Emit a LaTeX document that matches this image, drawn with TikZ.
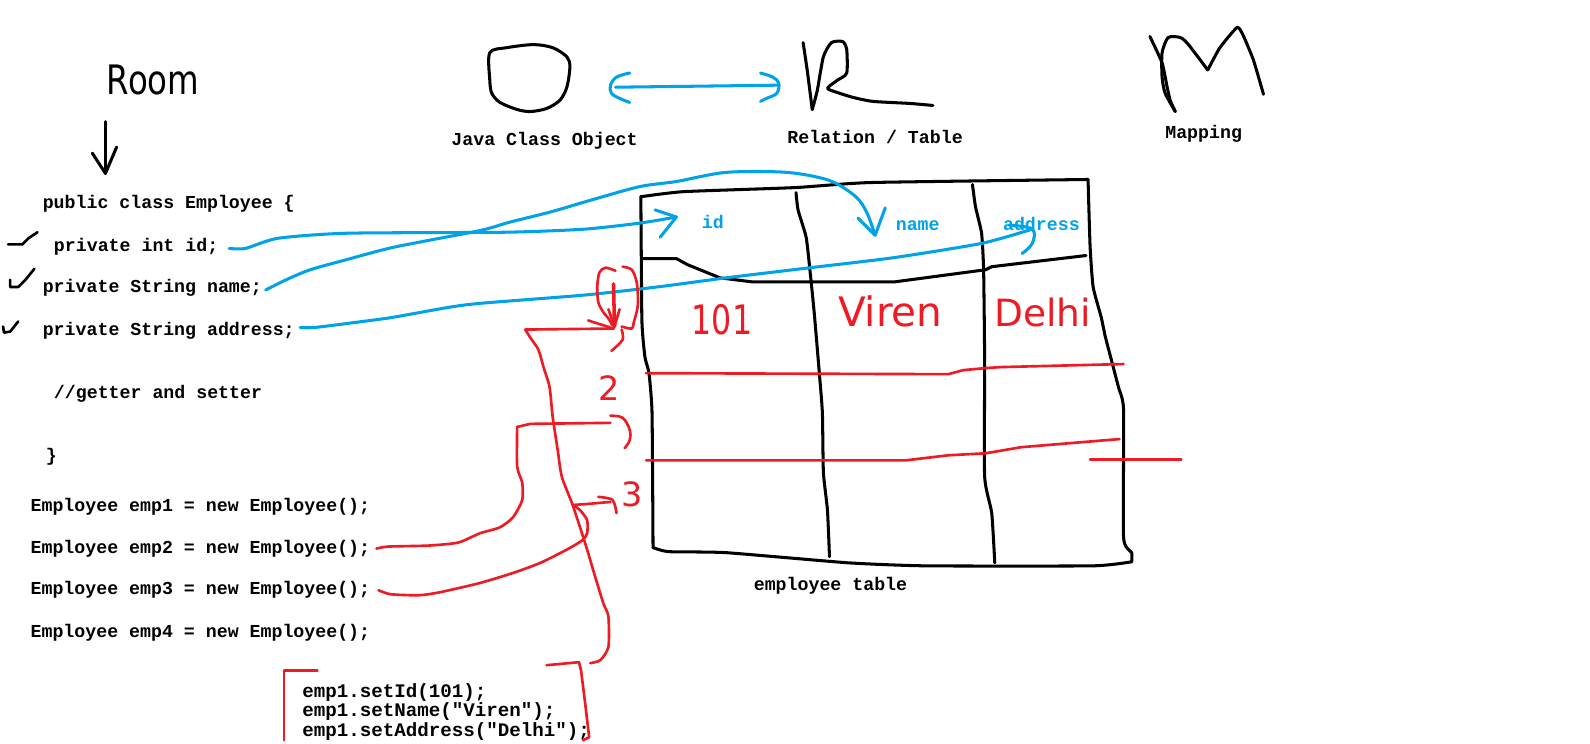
\documentclass[tikz,border=0pt]{standalone}
\usepackage{fontspec}
\newfontfamily\monob{Liberation Mono}
\newfontfamily\handf{DejaVu Sans}
\definecolor{pblue}{HTML}{00A2E8}
\definecolor{pred}{HTML}{ED1C24}
\tikzset{
  blk/.style={line width=3pt, black, line cap=round, line join=round},
  bl/.style={line width=3pt, pblue, line cap=round, line join=round},
  rd/.style={line width=2.6pt, pred, line cap=round, line join=round},
  code/.style={font=\monob\bfseries\fontsize{18}{20}\selectfont, anchor=west, inner sep=0pt},
  setter/.style={font=\monob\bfseries\fontsize{18.9}{20}\selectfont, anchor=west, inner sep=0pt},
  lbl/.style={font=\monob\bfseries\fontsize{18}{20}\selectfont, inner sep=0pt},
  blbl/.style={lbl, text=pblue},
  hand/.style={font=\handf\fontsize{40}{40}\selectfont, inner sep=0pt, text=pred},
}
\begin{document}
\begin{tikzpicture}[x=1pt,y=-1pt]
\useasboundingbox (0,0) rectangle (1568,733);
\fill[white] (0,0) rectangle (1568,733);

% ---------- top: Room, O R M ----------
\node[font=\handf\fontsize{40}{40}\selectfont, inner sep=0pt, xscale=0.8] (room) at (151,79) {Room};
\coordinate (downtop) at (104,120);
\coordinate (downbot) at (104,171);
\draw[blk] (downtop) -- (downbot);
\draw[blk] (91,151) -- (downbot) -- (115,145);

% O blob
\draw[blk] plot[smooth cycle, tension=0.5] coordinates {(483,52) (500,47) (526,44) (545,47) (559,56) (562,66) (559,86) (552,99) (539,107) (523,110) (510,108) (493,101) (485,92) (483,79)};
% double arrow
\coordinate (dal) at (607,86);
\coordinate (dar) at (767,84);
\draw[bl] (dal) -- (dar);
\draw[bl] plot[smooth, tension=0.6] coordinates {(621,72) (608,76) (602,84) (603,92) (611,97) (621,101)};
\draw[bl] plot[smooth, tension=0.6] coordinates {(750,72) (762,76) (768,82) (766,92) (756,97) (750,100)};
% R
\draw[blk] plot[smooth, tension=0.3] coordinates {(792,42) (796,69) (801,108)};
\draw[blk] plot[smooth, tension=0.4] coordinates {(801,108) (806,89) (812,56) (820,42) (831,41) (835,49) (835,72) (826,79) (816,87) (825,91) (841,96) (861,100) (897,102) (920,104)};
% M
\draw[blk] plot[smooth, tension=0.3] coordinates {(1134,36) (1146,62) (1151,86) (1154,99) (1159,110)};
\draw[blk] plot[smooth, tension=0.4] coordinates {(1159,110) (1149,92) (1146,76) (1146,52) (1152,37) (1164,37) (1172,44) (1191,69)};
\draw[blk] plot[smooth, tension=0.3] coordinates {(1191,69) (1203,47) (1220,27) (1226,35) (1236,59) (1246,93)};

\node[lbl] (jco) at (537,139) {Java Class Object};
\node[lbl] (rel) at (863,135) {Relation / Table};
\node[lbl] (map) at (1187,132) {Mapping};

% ---------- code ----------
\node[code] (c0) at (42,201) {public class Employee \{};
\node[code] (cid) at (53,243) {private int id;};
\node[code] (cname) at (42,284) {private String name;};
\node[code] (caddr) at (42,326) {private String address;};
\node[code] (cget) at (53,388) {//getter and setter};
\node[code] (cend) at (45,450) {\}};
\node[code] (e1) at (30,500) {Employee emp1 = new Employee();};
\node[code] (e2) at (30,541) {Employee emp2 = new Employee();};
\node[code] (e3) at (30,582) {Employee emp3 = new Employee();};
\node[code] (e4) at (30,624) {Employee emp4 = new Employee();};
\node[setter] (s1) at (298,683) {emp1.setId(101);};
\node[setter] (s2) at (298,702) {emp1.setName("Viren");};
\node[setter] (s3) at (298,721) {emp1.setAddress("Delhi");};

% check marks
\draw[blk, line width=2.6pt] (8,241) -- (22,241) -- (28,235) -- (37,229);
\draw[blk, line width=2.6pt] (10,276) -- (10,283) -- (18,283) -- (25,276) -- (34,265);
\draw[blk, line width=2.6pt] (3,322) -- (4,328) -- (10,327) -- (18,317);

% ---------- table ----------
\draw[blk] plot[smooth, tension=0.3] coordinates {(632,194) (674,189) (784,185) (859,180) (1073,177)};
\draw[blk] plot[smooth, tension=0.3] coordinates {(1073,177) (1075,243) (1078,283) (1086,313) (1090,332) (1096,355) (1103,382) (1108,404) (1108,530) (1116,545) (1116,554)};
\draw[blk] plot[smooth, tension=0.3] coordinates {(1116,554) (1078,558) (912,558) (836,555) (716,545) (659,544) (644,540)};
\draw[blk] plot[smooth, tension=0.3] coordinates {(644,540) (643,407) (640,368) (636,352) (633,316) (632,194)};
\draw[blk] plot[smooth, tension=0.3] coordinates {(785,190) (787,207) (795,234) (799,269) (803,309) (808,368) (811,407) (812,466) (816,503) (818,549)};
\draw[blk] plot[smooth, tension=0.3] coordinates {(959,182) (962,204) (968,230) (970,266) (971,355) (971,470) (978,506) (981,555)};
\draw[blk] (633,255) -- (667,255) -- (678,261) -- (710,274) -- (742,278) -- (882,278) -- (912,274) -- (972,266) -- (978,263) -- (1071,252);

\node[blbl] (hid) at (703,219) {id};
\node[blbl] (hname) at (905,223) {name};
\node[blbl] (haddr) at (1027,221) {address};
\node[lbl] (tbl) at (819,578) {employee table};

% red rows
\draw[rd] (637,368) -- (935,369) -- (950,365) -- (972,363) -- (987,362) -- (1108,359);
\draw[rd] (637,454) -- (893,454) -- (935,449) -- (972,447) -- (1007,441) -- (1104,433);
\draw[rd] (1075,453) -- (1165,453);

% red values
\node[hand, xscale=0.78] (v101) at (712,315) {101};
\node[hand] (vviren) at (878,307) {Viren};
\node[hand, font=\handf\fontsize{37}{37}\selectfont] (vdelhi) at (1028,308) {Delhi};
\node[hand, font=\handf\fontsize{33}{33}\selectfont] (n2) at (601,383) {2};
\node[hand, font=\handf\fontsize{33}{33}\selectfont] (n3) at (623,487) {3};

% ---------- blue connectors ----------
\coordinate (idend) at (667,214);
\draw[bl] plot[smooth, tension=0.4] coordinates {(226,245) (242,245) (274,235) (342,230) (499,229) (576,226) (631,220) (idend)};
\draw[bl] (646,207) -- (idend) -- (651,234);

\coordinate (nameend) at (863,232);
\draw[bl] plot[smooth, tension=0.5] coordinates {(262,286) (282,276) (306,266) (342,256) (383,245) (423,237) (475,227) (503,219) (543,209) (584,197) (631,184) (667,179) (716,170) (776,170) (818,178) (844,194) (855,210) (nameend)};
\draw[bl] (846,215) -- (nameend) -- (873,205);

\coordinate (addrend) at (1018,226);
\draw[bl] plot[smooth, tension=0.4] coordinates {(296,323) (310,323) (350,318) (387,313) (443,303) (475,299) (576,291) (648,283) (716,274) (799,264) (882,254) (968,240) (addrend)};
\draw[bl] plot[smooth, tension=0.6] coordinates {(995,222) (addrend) (1018,240) (1008,250)};

% ---------- red connectors ----------
% circled 1 with arrow
\draw[rd] plot[smooth, tension=0.5] coordinates {(607,267) (597,264) (591,269) (589,283) (590,298) (595,308) (600,314) (604,321)};
\draw[rd] plot[smooth, tension=0.5] coordinates {(614,263) (623,266) (628,279) (629,301) (625,318) (623,324) (613,322)};
\coordinate (onetip) at (606,322);
\draw[rd, line width=3.5pt] (605,280) -- (onetip);
\draw[rd] (600,305) -- (onetip) -- (611,305);
\coordinate (r1) at (518,325);
\draw[rd] (r1) -- (605,324);
\draw[rd] (580,316) -- (605,324);
\draw[rd] plot[smooth, tension=0.5] coordinates {(613,325) (614,335) (603,346)};
% big vertical to setters
\draw[rd] plot[smooth, tension=0.4] coordinates {(r1) (523,333) (531,345) (536,362) (542,382) (545,411) (550,444) (554,470) (564,496) (572,520) (579,542) (587,569) (595,595) (600,608) (600,638) (592,651) (582,654)};
% emp2 to row 2
\coordinate (r2) at (602,417);
\draw[rd] plot[smooth, tension=0.4] coordinates {([xshift=6pt]e2.east) (383,539) (423,538) (452,535) (473,526) (493,520) (506,510) (515,493) (515,476) (510,460) (510,421)};
\draw[rd] (510,421) -- (523,418) -- (r2);
\draw[rd] plot[smooth, tension=0.6] coordinates {(602,410) (614,412) (621,424) (621,434) (616,442)};
% emp3 to 3
\coordinate (r3) at (602,495);
\draw[rd] plot[smooth, tension=0.4] coordinates {([xshift=8pt]e3.east) (385,586) (413,587) (434,584) (473,575) (506,565) (533,555) (559,542) (574,533) (579,526) (579,513) (572,503) (565,498)};
\draw[rd] (565,498) -- (579,497) -- (r3);
\draw[rd] plot[smooth, tension=0.5] coordinates {(590,490) (604,493) (608,506)};
% brackets
\draw[rd] (280,730) -- (280,661) -- (313,661);
\draw[rd] (539,656) -- (571,653) -- (573,661) -- (577,693) -- (581,727) -- (575,730);
\end{tikzpicture}
\end{document}
